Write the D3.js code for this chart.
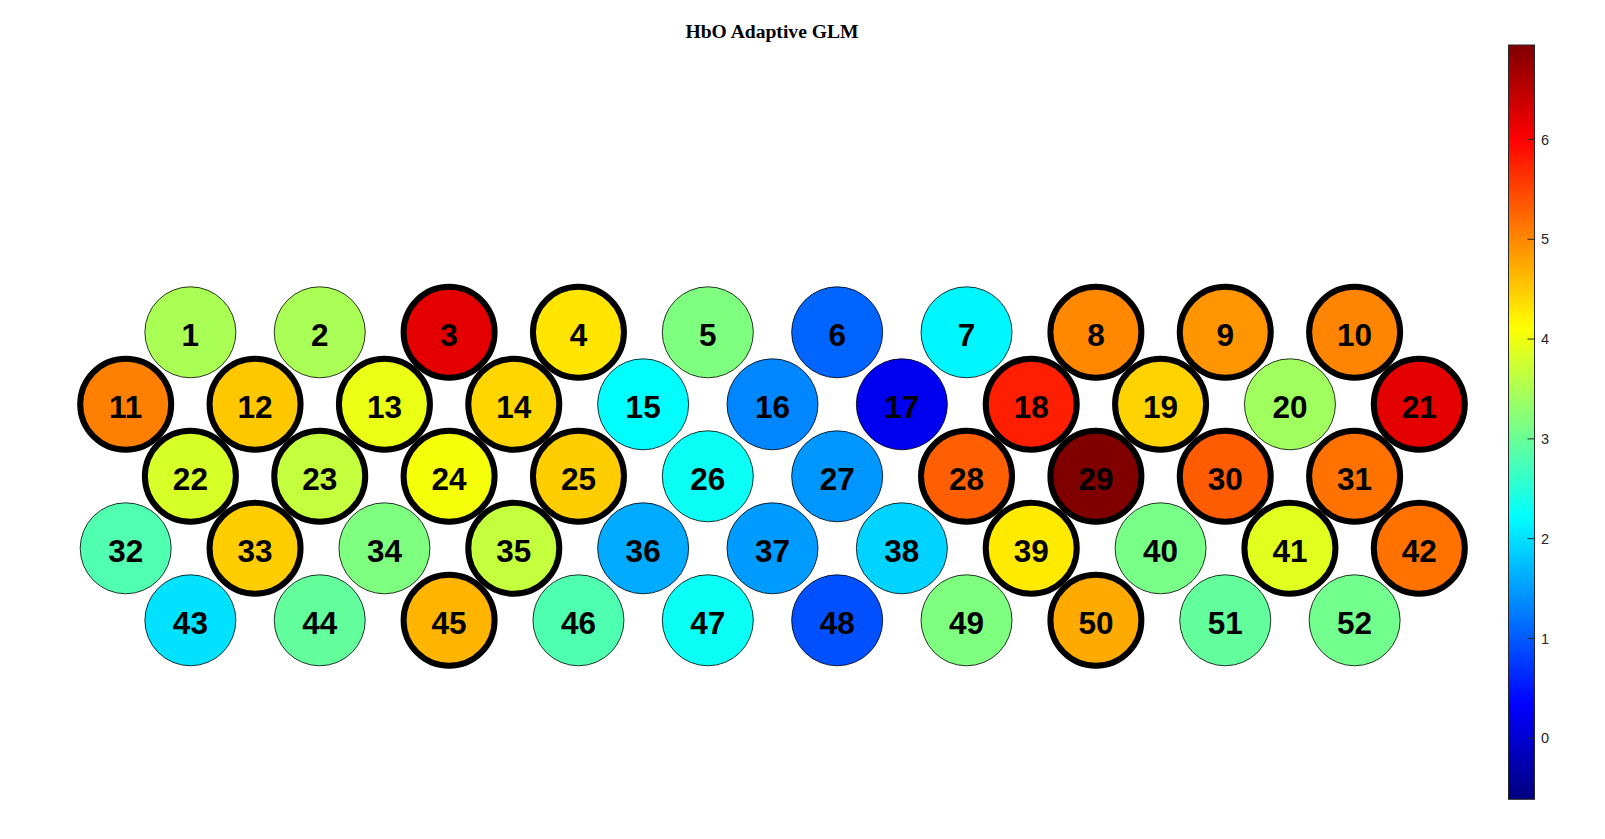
<!DOCTYPE html>
<html>
<head>
<meta charset="utf-8">
<script src="https://cdn.jsdelivr.net/npm/d3@7"></script>
<style>
  html, body { margin: 0; padding: 0; background: #ffffff; }
  svg { display: block; }
</style>
</head>
<body>
<svg id="chart" width="1605" height="839"></svg>
<script>
// ---------------- DATA ----------------
const title = "HbO Adaptive GLM";
// channels per row of the optode layout (rows alternate 10 / 11 channels)
const rowLengths = [10, 11, 10, 11, 10];
// channel values (t-statistics), channels 1..52
const values = [
  3.48, 3.47, 6.19, 4.30, 3.16, 1.07, 2.15, 4.99, 4.89, 5.02,      // 1-10
  5.05, 4.52, 3.96, 4.41, 2.21, 1.33, 0.22, 5.77, 4.43, 3.40, 6.19, // 11-21
  3.81, 3.66, 4.03, 4.48, 2.29, 1.44, 5.29, 6.94, 5.32, 5.15,      // 22-31
  2.81, 4.48, 3.16, 3.66, 1.59, 1.48, 1.89, 4.26, 3.11, 3.88, 5.15, // 32-42
  2.00, 2.95, 4.66, 2.80, 2.29, 0.92, 3.16, 4.74, 2.95, 3.06       // 43-52
];
// channels drawn with a thick outline (significant)
const significant = [3, 4, 8, 9, 10, 11, 12, 13, 14, 18, 19, 21, 22, 23, 24, 25,
                     28, 29, 30, 31, 33, 35, 39, 41, 42, 45, 50];
const colorDomain = [-0.617, 6.942];
const colorTicks = [0, 1, 2, 3, 4, 5, 6];

// ---------------- HELPERS ----------------
function clamp01(v) { return Math.max(0, Math.min(1, v)); }
function jet(t) {
  const r = clamp01(1.5 - Math.abs(4 * t - 3));
  const g = clamp01(1.5 - Math.abs(4 * t - 2));
  const b = clamp01(1.5 - Math.abs(4 * t - 1));
  return d3.rgb(r * 255, g * 255, b * 255).formatHex();
}
const tScale = d3.scaleLinear().domain(colorDomain).range([0, 1]).clamp(true);
const color = v => jet(tScale(v));

// build channel table: row index and half-column position
const channels = [];
let ch = 0;
rowLengths.forEach((len, row) => {
  const start = len === 11 ? 0 : 1;
  for (let k = 0; k < len; k++) {
    channels.push({ id: ch + 1, value: values[ch], row: row, hc: start + 2 * k,
                    sig: significant.includes(ch + 1) });
    ch++;
  }
});

// ---------------- LAYOUT ----------------
const svg = d3.select("#chart");
const x = d3.scaleLinear().domain([0, 20]).range([125.7, 1419.3]);
const y = d3.scaleLinear().domain([0, 4]).range([332.3, 620.3]);
const R = 45.5;

svg.append("text")
  .attr("x", 772).attr("y", 38)
  .attr("text-anchor", "middle")
  .style("font-family", "'Liberation Serif', 'Times New Roman', serif")
  .style("font-weight", "bold")
  .style("font-size", "19.6px")
  .attr("fill", "#000")
  .text(title);

const g = svg.append("g");
const node = g.selectAll("g.ch").data(channels).enter().append("g")
  .attr("class", "ch")
  .attr("transform", d => `translate(${x(d.hc)},${y(d.row)})`);

node.append("circle")
  .attr("r", R)
  .attr("fill", d => color(d.value))
  .attr("stroke", "#000")
  .attr("stroke-width", d => d.sig ? 6 : 0.8);

node.append("text")
  .attr("y", 13.6)
  .attr("text-anchor", "middle")
  .style("font-family", "'Liberation Sans', Arial, Helvetica, sans-serif")
  .style("font-weight", "bold")
  .style("font-size", "31.5px")
  .attr("fill", "#000")
  .text(d => d.id);

// ---------------- COLORBAR ----------------
const cbX = 1508.5, cbW = 26, cbTop = 45, cbBottom = 799.3;
const cy = d3.scaleLinear().domain(colorDomain).range([cbBottom, cbTop]);

const defs = svg.append("defs");
const grad = defs.append("linearGradient").attr("id", "jetgrad")
  .attr("x1", 0).attr("y1", 1).attr("x2", 0).attr("y2", 0);
d3.range(0, 1.0001, 1 / 64).forEach(t => {
  grad.append("stop").attr("offset", t).attr("stop-color", jet(t));
});

svg.append("rect")
  .attr("x", cbX).attr("y", cbTop)
  .attr("width", cbW).attr("height", cbBottom - cbTop)
  .attr("fill", "url(#jetgrad)");

const cAxis = d3.axisRight(cy).tickValues(colorTicks).tickSize(0).tickPadding(0)
  .tickFormat(d3.format("d"));
const ax = svg.append("g").attr("transform", `translate(${cbX + cbW},0)`).call(cAxis);
ax.select(".domain").remove();
ax.selectAll(".tick line").remove();
ax.selectAll(".tick").append("line")
  .attr("x1", -7).attr("x2", 0)
  .attr("stroke", "#262626").attr("stroke-width", 1);
ax.selectAll(".tick text")
  .attr("x", 6.5)
  .attr("dy", "0.35em")
  .attr("fill", "#262626")
  .style("font-family", "'Liberation Sans', Arial, Helvetica, sans-serif")
  .style("font-size", "14.5px");

svg.append("rect")
  .attr("x", cbX).attr("y", cbTop)
  .attr("width", cbW).attr("height", cbBottom - cbTop)
  .attr("fill", "none").attr("stroke", "#262626").attr("stroke-width", 1);
</script>
</body>
</html>
